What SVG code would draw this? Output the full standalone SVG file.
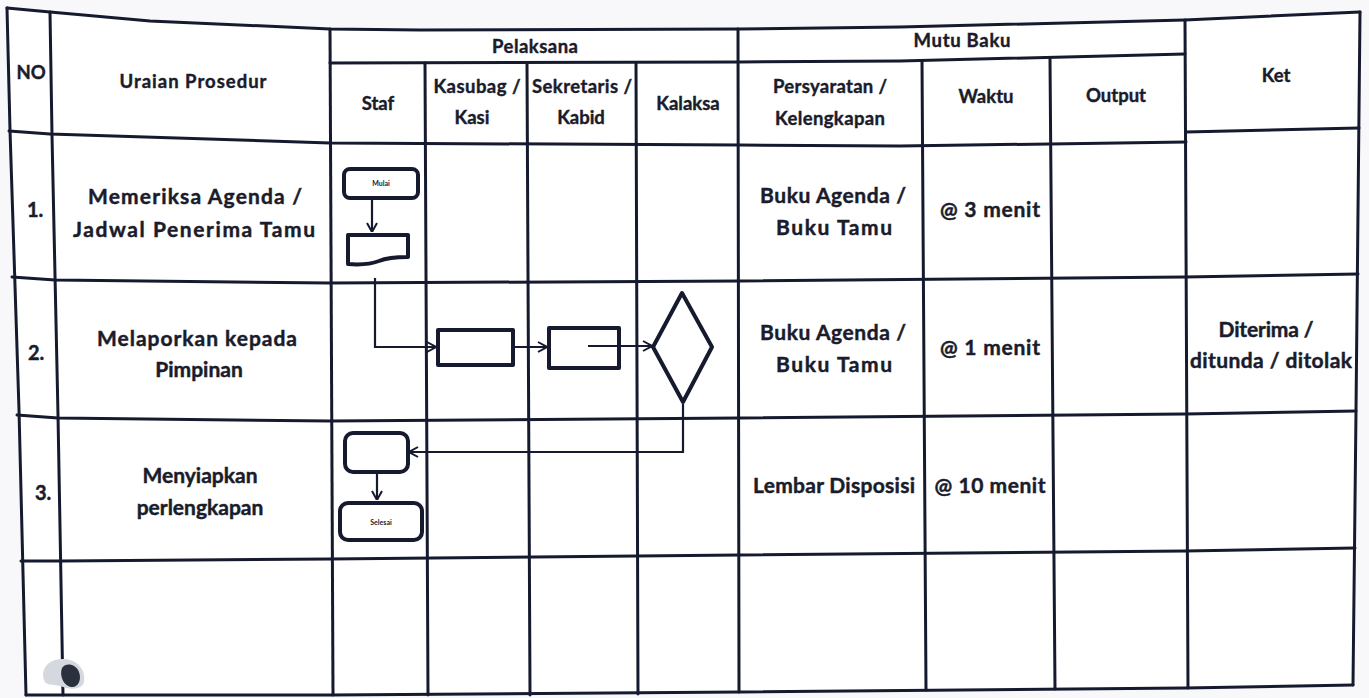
<svg xmlns="http://www.w3.org/2000/svg" width="1369" height="698" viewBox="0 0 1369 698">
<defs>
<style>
.grid{fill:none;stroke:#151a2e;stroke-width:3;stroke-linejoin:round;stroke-linecap:round}
.shape{fill:#fff;stroke:#151a2e;stroke-width:4;stroke-linejoin:round}
.conn{fill:none;stroke:#151a2e;stroke-width:2.2}
.h{font-family:Lato,"Open Sans",sans-serif;font-weight:700;font-size:18.5px;fill:#1a1c2c;stroke:#1a1c2c;stroke-width:0.4;text-anchor:middle}
.t{font-family:Lato,"Open Sans",sans-serif;font-weight:700;font-size:21px;fill:#1a1c2c;stroke:#1a1c2c;stroke-width:0.45;text-anchor:middle}
.n{font-family:Lato,"Open Sans",sans-serif;font-weight:700;font-size:20px;fill:#1a1c2c;stroke:#1a1c2c;stroke-width:0.45}
.s{font-family:Lato,"Open Sans",sans-serif;font-weight:700;font-size:7px;fill:#1a1c2c;text-anchor:middle}
</style>
<marker id="ah" viewBox="0 0 10 12" refX="10" refY="6" markerWidth="10" markerHeight="12" markerUnits="userSpaceOnUse" orient="auto">
<path d="M1,1 L10,6 L1,11" fill="none" stroke="#151a2e" stroke-width="2"/>
</marker>
</defs>
<rect width="1369" height="698" fill="#f8f8fa"/>
<path d="M7,8 L50,12 L150,21 L330,29 L740,29 L900,27 L1185,20 L1360,12 L1356,411 L1353,685 L740,692 L330,695 L26,695 L18,410 L10,130 Z" fill="#ffffff"/>

<g id="table">
<path class="grid" d="M7,8 L50,12 L150,21 L330,29 L420,30 L740,29 L900,27 L1185,20 L1360,12"/>
<path class="grid" d="M330,63 L740,62 L900,61 L1185,54"/>
<path class="grid" d="M9,131 L50,134 L330,143 L740,145 L900,146 L1186,142"/>
<path class="grid" d="M1186,132 L1359,128"/>
<path class="grid" d="M12,277 L55,280 L330,283 L740,281 L1185,277 L1358,274"/>
<path class="grid" d="M17,415 L58,418 L330,421 L740,418 L1185,414 L1356,411"/>
<path class="grid" d="M21,561 L62,561 L330,559 L740,555 L1185,551 L1355,548"/>
<path class="grid" d="M26,695 L330,695 L740,692 L1185,688 L1353,685"/>
<path class="grid" d="M7,8 L10,130 L19,410 L26,695"/>
<path class="grid" d="M50,12 L52,135 L58,415 L63,695"/>
<path class="grid" d="M330,29 L333,695"/>
<path class="grid" d="M425,63 L428,695"/>
<path class="grid" d="M527,63 L530,695"/>
<path class="grid" d="M636,63 L638,694"/>
<path class="grid" d="M738,29 L739,692"/>
<path class="grid" d="M922,61 L926,690"/>
<path class="grid" d="M1050,59 L1055,689"/>
<path class="grid" d="M1185,20 L1188,688"/>
<path class="grid" d="M1360,12 L1356,411 L1353,685"/>
</g>

<g id="header">
<text class="h" x="31" y="79">NO</text>
<text class="h" x="193" y="88" textLength="147">Uraian Prosedur</text>
<text class="h" x="535" y="53" textLength="86">Pelaksana</text>
<text class="h" x="962" y="47" textLength="97">Mutu Baku</text>
<text class="h" x="378" y="110">Staf</text>
<text class="h" x="477" y="93" textLength="87">Kasubag /</text>
<text class="h" x="472" y="124">Kasi</text>
<text class="h" x="582" y="93" textLength="100">Sekretaris /</text>
<text class="h" x="581" y="124">Kabid</text>
<text class="h" x="688" y="110">Kalaksa</text>
<text class="h" x="830" y="93" textLength="114">Persyaratan /</text>
<text class="h" x="830" y="125" textLength="110">Kelengkapan</text>
<text class="h" x="986" y="103">Waktu</text>
<text class="h" x="1116" y="102">Output</text>
<text class="h" x="1276" y="82">Ket</text>
</g>

<g id="row1">
<text class="n" x="27" y="217">1.</text>
<text class="t" x="195" y="204" textLength="214">Memeriksa Agenda /</text>
<text class="t" x="194" y="237" textLength="242">Jadwal Penerima Tamu</text>
<text class="t" x="833" y="203" textLength="146">Buku Agenda /</text>
<text class="t" x="834" y="235" textLength="116">Buku Tamu</text>
<text class="t" x="990" y="217" textLength="100">@ 3 menit</text>
</g>
<g id="row2">
<text class="n" x="28" y="360">2.</text>
<text class="t" x="197" y="346" textLength="200">Melaporkan kepada</text>
<text class="t" x="199" y="377">Pimpinan</text>
<text class="t" x="833" y="340" textLength="146">Buku Agenda /</text>
<text class="t" x="834" y="372" textLength="116">Buku Tamu</text>
<text class="t" x="990" y="355" textLength="100">@ 1 menit</text>
<text class="t" x="1266" y="337" textLength="95">Diterima /</text>
<text class="t" x="1271" y="368" textLength="162">ditunda / ditolak</text>
</g>
<g id="row3">
<text class="n" x="35" y="500">3.</text>
<text class="t" x="200" y="483">Menyiapkan</text>
<text class="t" x="200" y="515">perlengkapan</text>
<text class="t" x="834" y="493" textLength="162">Lembar Disposisi</text>
<text class="t" x="990" y="493" textLength="111">@ 10 menit</text>
</g>

<g id="node-mulai">
<rect class="shape" x="344" y="169" width="74" height="29" rx="6"/>
<text class="s" x="381" y="186">Mulai</text>
</g>
<g id="node-document">
<path class="shape" d="M348,235 H408 V257 C394,257 386,258 379,261 C371,264 360,265 348,264 Z"/>
</g>
<g id="node-kasubag">
<rect class="shape" x="438" y="330" width="75" height="35"/>
</g>
<g id="node-sekretaris">
<rect class="shape" x="549" y="328" width="70" height="40"/>
</g>
<g id="node-kalaksa">
<path class="shape" d="M653,347 L682,293 L712,347 L683,402 Z"/>
</g>
<g id="node-staf3">
<rect class="shape" x="345" y="433" width="63" height="39" rx="8"/>
</g>
<g id="node-selesai">
<rect class="shape" x="340" y="503" width="82" height="37" rx="8"/>
<text class="s" x="381" y="525">Selesai</text>
</g>

<g id="connectors">
<path class="conn" d="M372,198 L372,232" marker-end="url(#ah)"/>
<path class="conn" d="M375,278 L375,347 L436,347" marker-end="url(#ah)"/>
<path class="conn" d="M513,347 L547,347" marker-end="url(#ah)"/>
<path class="conn" d="M588,346 L652,346" marker-end="url(#ah)"/>
<path class="conn" d="M683,404 L683,452 L409,452" marker-end="url(#ah)"/>
<path class="conn" d="M377,472 L377,500" marker-end="url(#ah)"/>
</g>

<g id="smudge">
<path d="M44,680 C40,668 50,658 64,659 C78,660 86,670 84,682 C82,690 70,690 60,686 C52,684 46,686 44,680 Z" fill="#d5d8de"/>
<path d="M62,668 C66,662 76,664 79,672 C82,680 78,688 71,687 C64,686 59,676 62,668 Z" fill="#2b303e"/>
</g>
</svg>
